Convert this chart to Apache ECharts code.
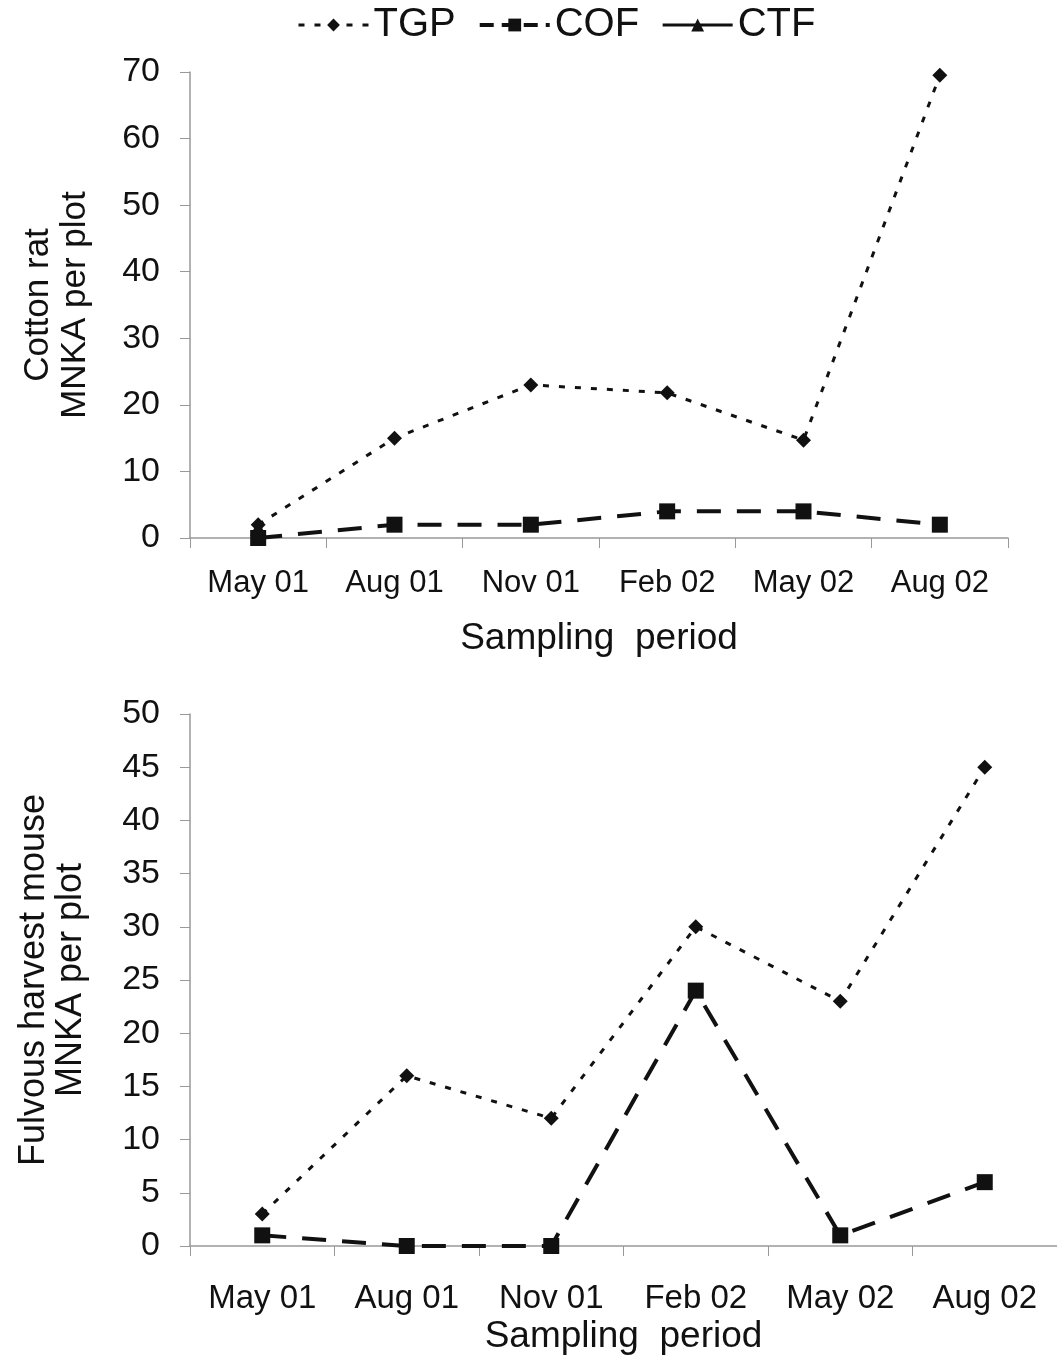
<!DOCTYPE html>
<html>
<head>
<meta charset="utf-8">
<script src="https://cdn.jsdelivr.net/npm/echarts@6/dist/echarts.min.js"></script>
<style>
    html, body { margin: 0; padding: 0; background: #fff; }
    #chart { width: 1057px; height: 1357px; }
</style>
</head>
<body>
<div id="chart"></div>
<script>
// sampling periods (shared by both panels)
const periods = ["May 01", "Aug 01", "Nov 01", "Feb 02", "May 02", "Aug 02"];

// top panel: cotton rat
const ratTGP = [2, 15, 23, 21.8, 14.7, 69.5];
const ratCOF = [0, 2, 2, 4, 4, 2];
const ratCTF = [1.5, null, null, null, null, null];

// bottom panel: fulvous harvest mouse
const mouseTGP = [3, 16, 12, 30, 23, 45];
const mouseCOF = [1, 0, 0, 24, 1, 6];
const mouseCTF = [null, null, null, null, null, null];

const font = "Liberation Sans, Arial, sans-serif";
const ink = "#111";
const tgpDash = [6, 10];
const cofDash = [24, 16];

const chart = echarts.init(document.getElementById("chart"));

const xAxisBase = (idx, labelSize, labelMargin, nameSize, nameGap) => ({
    type: "category",
    gridIndex: idx,
    data: periods,
    boundaryGap: true,
    name: "Sampling  period",
    nameLocation: "middle",
    nameGap: nameGap,
    nameTextStyle: { color: ink, fontSize: nameSize, fontFamily: font },
    axisLine: { show: true, lineStyle: { color: "#999", width: 1.5 } },
    axisTick: { show: true, interval: 0, length: 10, alignWithLabel: false, lineStyle: { color: "#999" } },
    axisLabel: { color: ink, fontSize: labelSize, fontFamily: font, margin: labelMargin, interval: 0, hideOverlap: false },
    splitLine: { show: false }
});

const yAxisBase = (idx, max, interval, title, labelSize, nameSize, nameGap) => ({
    type: "value",
    gridIndex: idx,
    min: 0,
    max: max,
    interval: interval,
    name: title,
    nameLocation: "middle",
    nameRotate: 90,
    nameGap: nameGap,
    nameTextStyle: { color: ink, fontSize: nameSize, fontFamily: font, lineHeight: 37 },
    axisLine: { show: true, lineStyle: { color: "#999", width: 1.5 } },
    axisTick: { show: true, inside: false, length: 10, lineStyle: { color: "#999" } },
    axisLabel: { color: ink, fontSize: labelSize, fontFamily: font, margin: 30 },
    splitLine: { show: false }
});

const tgpStyle = {
    type: "line",
    name: "TGP",
    symbol: "diamond",
    symbolSize: 15,
    itemStyle: { color: ink },
    lineStyle: { color: ink, width: 3, type: tgpDash }
};
const cofStyle = {
    type: "line",
    name: "COF",
    symbol: "rect",
    symbolSize: 16,
    itemStyle: { color: ink },
    lineStyle: { color: ink, width: 4, type: cofDash }
};
const ctfStyle = {
    type: "line",
    name: "CTF",
    symbol: "triangle",
    symbolSize: 16,
    itemStyle: { color: ink },
    lineStyle: { color: ink, width: 3, type: "solid" }
};

const option = {
    animation: false,
    backgroundColor: "#fff",
    legend: {
        top: 0,
        left: 292,
        itemWidth: 70,
        itemHeight: 16,
        itemGap: 22,
        textStyle: { color: ink, fontSize: 40, fontFamily: font },
        data: [
            { name: "TGP", lineStyle: { type: tgpDash, width: 3 } },
            { name: "COF", lineStyle: { type: [14, 8], width: 4 } },
            { name: "CTF", lineStyle: { type: "solid", width: 3 } }
        ]
    },
    grid: [
        { left: 190, top: 72, width: 818, height: 466, outerBoundsMode: "none", containLabel: false },
        { left: 190, top: 714, width: 867, height: 532, outerBoundsMode: "none", containLabel: false }
    ],
    xAxis: [xAxisBase(0, 31, 30, 37, 82), xAxisBase(1, 33, 36, 37, 72)],
    yAxis: [
        yAxisBase(0, 70, 10, "Cotton rat\nMNKA per plot", 34, 35, 96),
        yAxisBase(1, 50, 5, "Fulvous harvest mouse\nMNKA per plot", 34, 36, 100)
    ],
    series: [
        Object.assign({}, tgpStyle, { xAxisIndex: 0, yAxisIndex: 0, data: ratTGP }),
        Object.assign({}, cofStyle, { xAxisIndex: 0, yAxisIndex: 0, data: ratCOF }),
        Object.assign({}, ctfStyle, { xAxisIndex: 0, yAxisIndex: 0, data: ratCTF }),
        Object.assign({}, tgpStyle, { xAxisIndex: 1, yAxisIndex: 1, data: mouseTGP }),
        Object.assign({}, cofStyle, { xAxisIndex: 1, yAxisIndex: 1, data: mouseCOF }),
        Object.assign({}, ctfStyle, { xAxisIndex: 1, yAxisIndex: 1, data: mouseCTF })
    ]
};

chart.setOption(option);
window.addEventListener("resize", () => chart.resize());
</script>
</body>
</html>
